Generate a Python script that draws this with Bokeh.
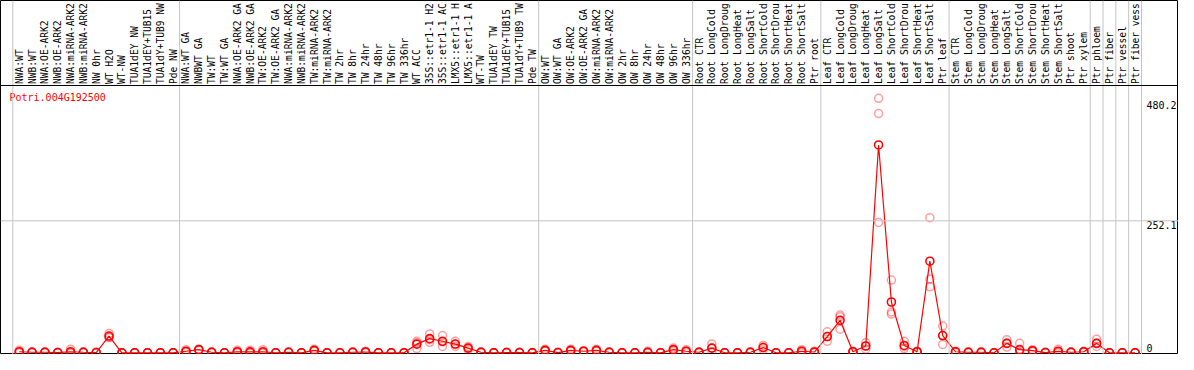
import numpy as np
from bokeh.plotting import figure
from bokeh.models import Range1d, Span, ColumnDataSource
from bokeh.core.properties import value
from bokeh.embed import file_html
from bokeh.resources import INLINE

title = "Potri.004G192500"

# category labels as visible in the header (clipped by the header height)
groups = [
    ["NWA:WT", "NWB:WT", "NWA:OE-ARK2", "NWB:OE-ARK2", "NWA:miRNA-ARK2", "NWB:miRNA-ARK2",
     "NW 0hr", "WT H2O", "WT-NW", "TUA1dEY NW", "TUA1dEY+TUB15", "TUA1dY+TUB9 NW", "Pde NW"],
    ["NWA:WT GA", "NWBWT GA", "TW:WT", "TW:WT GA", "NWA:OE-ARK2 GA", "NWB:OE-ARK2 GA",
     "TW:OE-ARK2", "TW:OE-ARK2 GA", "NWA:miRNA-ARK2", "NWB:miRNA-ARK2", "TW:miRNA-ARK2",
     "TW:miRNA-ARK2", "TW 2hr", "TW 8hr", "TW 24hr", "TW 48hr", "TW 96hr", "TW 336hr",
     "WT ACC", "35S::etr1-1 H2", "35S::etr1-1 AC", "LMX5::etr1-1 H", "LMX5::etr1-1 A",
     "WT-TW", "TUA1dEY TW", "TUA1dEY+TUB15", "TUA1dY+TUB9 TW", "Pde TW"],
    ["OW:WT", "OW:WT GA", "OW:OE-ARK2", "OW:OE-ARK2 GA", "OW:miRNA-ARK2", "OW:miRNA-ARK2",
     "OW 2hr", "OW 8hr", "OW 24hr", "OW 48hr", "OW 96hr", "OW 336hr"],
    ["Root CTR", "Root LongCold", "Root LongDroug", "Root LongHeat", "Root LongSalt",
     "Root ShortCold", "Root ShortDrou", "Root ShortHeat", "Root ShortSalt", "Ptr root"],
    ["Leaf CTR", "Leaf LongCold", "Leaf LongDroug", "Leaf LongHeat", "Leaf LongSalt",
     "Leaf ShortCold", "Leaf ShortDrou", "Leaf ShortHeat", "Leaf ShortSalt", "Ptr leaf"],
    ["Stem CTR", "Stem LongCold", "Stem LongDroug", "Stem LongHeat", "Stem LongSalt",
     "Stem ShortCold", "Stem ShortDrou", "Stem ShortHeat", "Stem ShortSalt", "Ptr shoot",
     "Ptr xylem"],
    ["Ptr phloem"],
    ["Ptr fiber"],
    ["Ptr vessel"],
    ["Ptr fiber vess"],
]

means = [2, 1, 1, 0.5, 2, 1, 0.5, 32, 0, 0, 0, 0, 0,
         3, 6, 1, 0, 2, 1.7, 2, 0, 1, 0, 4.7, 0, 0, 1, 1.5, 0, 0, 0, 16.5, 27, 22, 16.7, 9, 1, 0, 0.5, 0.5, 0,
         4.7, 0.5, 4.7, 3, 4.7, 1, 0, 0, 1, 0, 6, 3,
         1, 9, 0, 0, 1, 10, 0, 0, 3, 1.5,
         31, 62, 2, 13, 397, 97, 14, 2, 175, 33,
         2, 1, 1, 0, 18, 6, 4, 0.5, 3, 1, 2,
         18, 0, 0, 0]

rep1 = [5, 2, 2, 1, 7, 2, 1, 37, 0, 0, 0, 0, 0,
        6, 7, 2, 0, 5, 5, 6, 0, 2, 0, 7, 0, 0, 2, 3, 0, 0, 0, 22, 36, 33, 22, 12, 2, 0, 1, 1, 0,
        7, 1, 7, 4, 7, 2, 0, 0, 3, 0, 9, 6,
        2, 17, 0, 0, 2, 14, 0, 0, 6, 3,
        40, 72, 3, 19, 486, 139, 22, 3, 258, 51,
        3, 2, 2, 0, 25, 18, 6, 1, 7, 2, 3,
        26, 0, 0, 0]
rep2 = [1, 1, 1, 0.5, 0, 1, 0.5, 30, 0, 0, 0, 0, 0,
        2, 6, 1, 0, 1, 0, 0, 0, 1, 0, 4, 0, 0, 1, 1, 0, 0, 0, 19, 25, 21, 16, 9, 1, 0, 0.5, 0.5, 0,
        4, 0.5, 4, 3, 4, 1, 0, 0, 0, 0, 6, 3,
        1, 9, 0, 0, 1, 10, 0, 0, 3, 1,
        31, 69, 2, 13, 457, 78, 12, 2, 141, 33,
        2, 1, 1, 0, 18, 0, 4, 0.5, 2, 1, 2,
        18, 0, 0, 0]
rep3 = [0, 0, 0, 0, 0, 0, 0, 29, 0, 0, 0, 0, 0,
        1, 5, 0, 0, 0, 0, 0, 0, 0, 0, 3, 0, 0, 0, 0.5, 0, 0, 0, 8, 20, 12, 12, 6, 0, 0, 0, 0, 0,
        3, 0, 3, 2, 3, 0, 0, 0, 0, 0, 3, 0,
        0, 1, 0, 0, 0, 6, 0, 0, 0, 0.5,
        22, 45, 1, 7, 249, 74, 8, 1, 126, 16,
        1, 0, 0, 0, 11, 0, 2, 0, 0, 0, 1,
        12, 0, 0, 0]

tick_values = [0, 252.1, 480.2]
tick_labels = ["0", "252.1", "480.2"]

categories = [c for g in groups for c in g]
n = len(categories)
xs = list(range(n))
bounds = [-0.5] + list(np.cumsum([len(g) for g in groups]) - 0.5)

MONO = value("DejaVu Sans Mono")
W, H = 1178, 354
HEADER = 85

p = figure(width=W, height=H,
           x_range=Range1d(-1.4615, 90.385), y_range=Range1d(-3.25, 672.9),
           output_backend="svg", toolbar_location=None, min_border=0,
           x_axis_location=None, y_axis_location=None)
p.extra_x_ranges = {"px": Range1d(0, W)}
p.extra_y_ranges = {"py": Range1d(H, 0)}
p.grid.visible = False
p.outline_line_color = "black"
p.outline_line_width = 1
p.background_fill_color = "white"
p.border_fill_color = "white"

for b in bounds:
    p.add_layout(Span(location=b, dimension="height", line_color="#c4c4c4", line_width=1))
p.add_layout(Span(location=tick_values[1], dimension="width", line_color="#c4c4c4", line_width=1))
p.add_layout(Span(location=HEADER, dimension="width", y_range_name="py",
                  line_color="black", line_width=1.2))

# category labels in header
lab = ColumnDataSource(dict(x=xs, y=[HEADER - 1.5] * n, t=categories))
p.text(x="x", y="y", text="t", source=lab, y_range_name="py", angle=np.pi / 2,
       text_align="left", text_baseline="middle", text_font=MONO,
       text_font_size="9.6px", text_color="black")

# title
p.text(x=[9], y=[HEADER + 12], text=[title], x_range_name="px", y_range_name="py",
       text_align="left", text_baseline="middle", text_font=MONO,
       text_font_size="10px", text_color="red")

# replicates
for r in (rep1, rep2, rep3):
    p.scatter(xs, r, marker="circle", size=8, fill_color=None,
              line_color="red", line_alpha=0.38, line_width=1.5)

# mean line and markers
p.line(xs, means, line_color="red", line_width=1.2)
p.scatter(xs, means, marker="circle", size=8, fill_color=None,
          line_color="red", line_width=1.6)

# tick labels (inside right side)
p.text(x=[W - 32] * 2, y=tick_values[1:], text=tick_labels[1:], x_range_name="px",
       text_align="left", text_baseline="top", text_font=MONO,
       text_font_size="10px", text_color="black")
p.text(x=[W - 32], y=tick_values[:1], text=tick_labels[:1], x_range_name="px",
       text_align="left", text_baseline="bottom", y_offset=-1, text_font=MONO,
       text_font_size="10px", text_color="black")

open("out.html", "w").write(file_html(p, INLINE))
